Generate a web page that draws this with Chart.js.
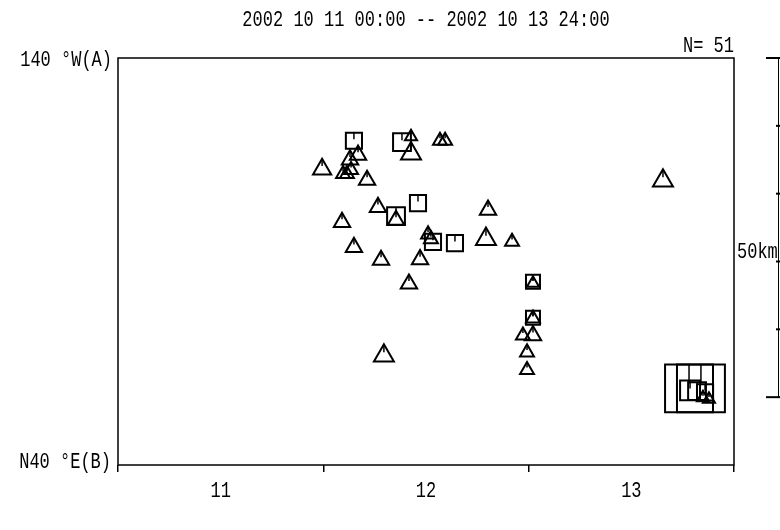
<!DOCTYPE html>
<html>
<head>
<meta charset="utf-8">
<script src="https://cdn.jsdelivr.net/npm/chart.js@4.4.0/dist/chart.umd.min.js"></script>
<style>
  html, body { margin: 0; padding: 0; background: #fff; }
</style>
</head>
<body>
<canvas id="chart" width="780" height="530"></canvas>
<script>
const titleText = "2002 10 11 00:00 -- 2002 10 13 24:00";
const countText = "N= 51";
const dayLabels = ["11", "12", "13"];
const endLabels = ["140 °W(A)", "N40 °E(B)"];
const sectionKm = 60;   // length of section A -> B
const barKm = 50;       // scale bar on the right

// triangles: time in days from 10/11 00:00, distance from A in km, magnitude class
const triTime = [0.994, 1.096, 1.115, 1.135, 1.130, 1.169, 1.213, 1.427, 1.427, 1.568, 1.593,
  1.266, 1.091, 1.354, 1.802, 1.149, 1.510, 1.524, 1.792, 1.281, 1.471, 1.417, 1.919,
  2.021, 2.021, 1.972, 2.021, 1.992, 1.992, 1.295, 2.654, 2.849, 2.878];
const triDist = [16.4, 17.1, 17.1, 16.5, 15.0, 14.3, 18.0, 11.6, 14.1, 12.2, 12.2,
  22.0, 24.2, 23.9, 22.4, 27.9, 26.0, 26.7, 26.7, 29.8, 29.7, 33.3, 27.1,
  33.2, 38.4, 40.9, 40.9, 43.4, 46.0, 43.9, 18.1, 50.1, 50.3];
const triMag = [3.0, 2.3, 2.3, 2.3, 2.7, 2.7, 2.7, 2.0, 3.3, 2.3, 2.3,
  2.7, 2.7, 2.7, 2.7, 2.7, 2.3, 2.3, 3.3, 2.7, 2.7, 2.7, 2.3,
  2.0, 2.3, 2.3, 2.7, 2.3, 2.3, 3.3, 3.3, 2.0, 2.0];

// squares
const sqTime = [1.149, 1.383, 1.461, 1.354, 1.534, 1.641, 2.021, 2.021, 2.781, 2.839, 2.786, 2.859, 2.820];
const sqDist = [12.2, 12.4, 21.4, 23.3, 27.1, 27.3, 33.0, 38.3, 48.7, 48.7, 49.0, 49.3, 49.1];
const sqMag = [3.8, 4.2, 3.8, 4.2, 3.8, 3.8, 3.3, 3.3, 11.3, 11.3, 4.7, 3.8, 4.2];

const FONT = "'Liberation Mono', 'DejaVu Sans Mono', monospace";

function toPoints(t, d) {
  return t.map((v, i) => ({ x: v, y: d[i] }));
}

// tall, narrow text like the original plotter font
function tallText(ctx, text, x, y, align) {
  ctx.save();
  ctx.translate(x, y);
  ctx.scale(1, 1.3);
  ctx.textAlign = align;
  ctx.textBaseline = "middle";
  ctx.fillText(text, 0, 0);
  ctx.restore();
}

const markTicks = {
  id: "markTicks",
  afterDatasetsDraw(chart) {
    const ctx = chart.ctx;
    ctx.save();
    ctx.strokeStyle = "#000";
    ctx.lineWidth = 1.5;
    chart.data.datasets.forEach((ds, di) => {
      chart.getDatasetMeta(di).data.forEach(el => {
        const r = el.options.radius;
        ctx.beginPath();
        if (ds.pointStyle === "rect") {
          const s = r * Math.SQRT1_2;
          ctx.moveTo(el.x, el.y - s);
          ctx.lineTo(el.x, el.y - s * 0.2);
        } else {
          ctx.moveTo(el.x, el.y - r);
          ctx.lineTo(el.x, el.y - r * 0.3);
        }
        ctx.stroke();
      });
    });
    ctx.restore();
  }
};

const frame = {
  id: "frame",
  afterDraw(chart) {
    const { ctx, chartArea: a } = chart;
    const xs = chart.scales.x;
    const ys = chart.scales.y;
    ctx.save();
    ctx.strokeStyle = "#000";
    ctx.fillStyle = "#000";
    ctx.lineWidth = 1.5;
    ctx.strokeRect(a.left, a.top, a.right - a.left, a.bottom - a.top);

    ctx.font = "17px " + FONT;
    tallText(ctx, titleText, (a.left + a.right) / 2, 20, "center");
    tallText(ctx, countText, a.right, 46, "right");
    tallText(ctx, endLabels[0], a.left - 6, ys.getPixelForValue(0) + 2, "right");
    tallText(ctx, endLabels[1], a.left - 7, ys.getPixelForValue(sectionKm) - 3, "right");
    dayLabels.forEach((lab, i) => {
      tallText(ctx, lab, xs.getPixelForValue(i + 0.5), a.bottom + 26, "center");
    });

    // scale bar
    const bx = 778.5;
    const y0 = ys.getPixelForValue(0);
    const y1 = ys.getPixelForValue(barKm);
    ctx.lineWidth = 1;
    ctx.beginPath();
    ctx.moveTo(bx, y0);
    ctx.lineTo(bx, y1);
    ctx.stroke();
    ctx.lineWidth = 2;
    for (let k = 0; k <= barKm; k += 10) {
      const py = ys.getPixelForValue(k);
      const len = (k === 0 || k === barKm) ? 14 : 4;
      ctx.beginPath();
      ctx.moveTo(780 - len, py);
      ctx.lineTo(780, py);
      ctx.stroke();
    }
    tallText(ctx, barKm + "km", a.right + 3, (y0 + y1) / 2 + 25, "left");
    ctx.restore();
  }
};

new Chart(document.getElementById("chart"), {
  type: "scatter",
  data: {
    datasets: [
      {
        label: "triangle",
        data: toPoints(triTime, triDist),
        pointStyle: "triangle",
        pointRadius: c => triMag[c.dataIndex] * 3.5,
        borderColor: "#000",
        backgroundColor: "rgba(0,0,0,0)",
        borderWidth: 2
      },
      {
        label: "square",
        data: toPoints(sqTime, sqDist),
        pointStyle: "rect",
        pointRadius: c => sqMag[c.dataIndex] * 3,
        borderColor: "#000",
        backgroundColor: "rgba(0,0,0,0)",
        borderWidth: 2
      }
    ]
  },
  options: {
    responsive: false,
    devicePixelRatio: 1,
    animation: false,
    layout: { padding: { left: 0, right: 46, top: 58, bottom: 0 } },
    plugins: {
      legend: { display: false },
      tooltip: { enabled: false }
    },
    scales: {
      x: {
        type: "linear",
        min: 0,
        max: 3,
        afterFit: s => { s.height = 65; },
        border: { display: false },
        grid: {
          drawOnChartArea: false,
          drawTicks: true,
          tickLength: 7,
          lineWidth: 1.5,
          color: c => (c.tick && c.tick.value % 1 === 0) ? "#000" : "rgba(0,0,0,0)"
        },
        ticks: {
          stepSize: 0.5,
          autoSkip: false,
          maxRotation: 0,
          font: { family: FONT, size: 17 },
          callback: () => ""
        }
      },
      y: {
        type: "linear",
        reverse: true,
        min: 0,
        max: sectionKm,
        afterFit: s => { s.width = 118; },
        afterBuildTicks: s => { s.ticks = [{ value: 0 }, { value: sectionKm }]; },
        border: { display: false },
        grid: { display: false },
        ticks: {
          font: { family: FONT, size: 17 },
          callback: () => ""
        }
      }
    }
  },
  plugins: [markTicks, frame]
});
</script>
</body>
</html>
